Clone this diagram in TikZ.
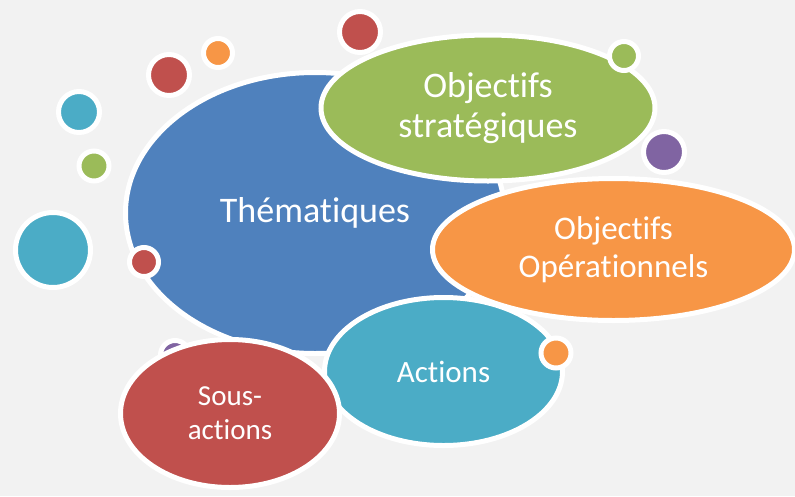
\documentclass[tikz,border=0pt]{standalone}
\usepackage{fontspec}
\setmainfont[Ligatures=NoCommon]{Carlito}
\usetikzlibrary{shapes.geometric}
\definecolor{fond}{HTML}{F2F2F2}
\definecolor{bleu}{HTML}{4F81BD}
\definecolor{vert}{HTML}{9BBB59}
\definecolor{orange}{HTML}{F79646}
\definecolor{turquoise}{HTML}{4BACC6}
\definecolor{rouge}{HTML}{C0504D}
\definecolor{violet}{HTML}{8064A2}
\tikzset{
  bulle/.style = {ellipse, draw=white, line width=5pt, text=white,
    align=center, inner sep=0pt},% grande bulle
  bulle_th/.style = {bulle, fill=bleu, minimum width=379pt,
    minimum height=281pt, font=\fontsize{36}{40}\selectfont},% thematiques
  bulle_os/.style = {bulle, fill=vert, minimum width=334pt,
    minimum height=146pt, font=\fontsize{36}{40}\selectfont},% objectifs strategiques
  bulle_oo/.style = {bulle, fill=orange, minimum width=362pt,
    minimum height=142pt, font=\fontsize{33}{38}\selectfont},% objectifs operationnels
  bulle_ac/.style = {bulle, fill=turquoise, minimum width=238pt,
    minimum height=148pt, font=\fontsize{31}{36}\selectfont},% actions
  bulle_sa/.style = {bulle, fill=rouge, minimum width=219pt,
    minimum height=148pt, font=\fontsize{29}{34}\selectfont},% sous-actions
  pastille/.style = {circle, draw=white, line width=5pt, inner sep=0pt,
    minimum size=29pt},% petite pastille
  pastille_g/.style = {pastille, minimum size=41pt},% pastille moyenne
  pastille_xl/.style = {pastille, minimum size=75pt}% grosse pastille
}

\begin{document}
\begin{tikzpicture}[x=1pt,y=-1pt]
\fill [fond] (0,0) rectangle (795,496);
\useasboundingbox (0,0) rectangle (795,496);
% pastilles du fond
\node [pastille_g, fill=rouge] (p_rouge1) at (360,32) {};
\node [pastille, fill=orange] (p_orange1) at (218,53) {};
\node [pastille_g, fill=rouge] (p_rouge2) at (169,75) {};
\node [pastille_g, fill=turquoise] (p_turq1) at (79,112) {};
\node [pastille, fill=vert, minimum size=30pt] (p_vert1) at (94,166) {};
\node [pastille_xl, fill=turquoise] (p_turq2) at (53,250) {};
% bulles
\node [bulle_th] (them) at (315,213) {Thématiques};
\node [pastille, fill=rouge] (p_rouge3) at (144,262) {};
\node [bulle_os] (obj_s) at (488,108) {Objectifs\\stratégiques};
\node [pastille, fill=vert] (p_vert2) at (624,56) {};
\node [bulle_oo] (obj_o) at (613.5,249.5) {Objectifs\\Opérationnels};
\node [pastille_g, fill=violet] (p_violet1) at (664,152) {};
\node [bulle_ac] (act) at (443.5,371.5) {Actions};
\node [pastille, fill=orange, minimum size=30pt] (p_orange2) at (556,353) {};
\node [pastille, fill=violet] (p_violet2) at (175,355) {};
\node [bulle_sa] (s_act) at (230,413.5) {Sous-\\actions};
\end{tikzpicture}
\end{document}
